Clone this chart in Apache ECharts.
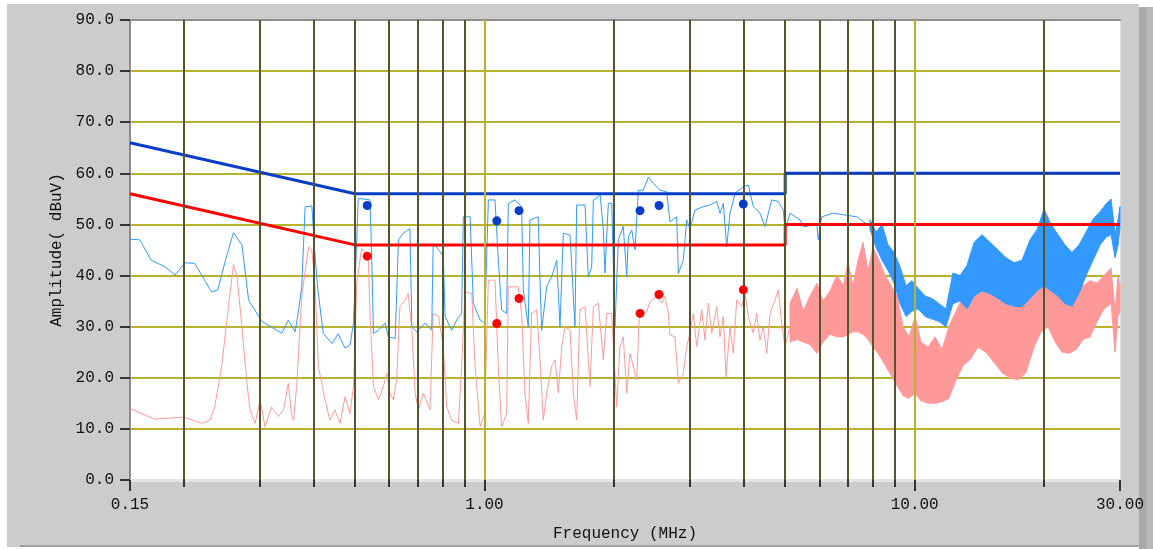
<!DOCTYPE html>
<html>
<head>
<meta charset="utf-8">
<script src="https://cdn.jsdelivr.net/npm/echarts@6/dist/echarts.min.js"></script>
<style>
html,body{margin:0;padding:0;background:#ffffff;}
#chart{width:1153px;height:549px;}
</style>
</head>
<body>
<div id="chart"></div>
<script>
// ---- data ----
const xLabelValues = [0.15, 1, 10, 30];
const xLabelTexts = ['0.15', '1.00', '10.00', '30.00'];
const xMinorTicks = [0.2, 0.3, 0.4, 0.5, 0.6, 0.7, 0.8, 0.9, 2, 3, 4, 5, 6, 7, 8, 9, 20];
const gridMinorFreq = [0.2, 0.3, 0.4, 0.5, 0.6, 0.7, 0.8, 0.9, 2, 3, 4, 5, 6, 7, 8, 9, 20];
const gridDecadeFreq = [1, 10];

const qpLimitFreq = [0.15, 0.5, 5, 5, 30];
const qpLimitVal = [66, 56, 56, 60, 60];
const avLimitFreq = [0.15, 0.5, 5, 5, 30];
const avLimitVal = [56, 46, 46, 50, 50];

const qpFreq = [0.150,0.158,0.168,0.181,0.191,0.201,0.212,0.232,0.240,0.250,
0.261,0.273,0.283,0.304,0.338,0.350,0.363,0.369,0.376,0.383,
0.397,0.404,0.410,0.422,0.442,0.457,0.474,0.487,0.496,0.500,
0.509,0.542,0.547,0.552,0.567,0.587,0.598,0.620,0.631,0.648,
0.671,0.678,0.696,0.728,0.754,0.760,0.788,0.802,0.810,0.839,
0.862,0.885,0.893,0.926,0.942,0.977,1.001,1.021,1.058,1.077,
1.096,1.126,1.136,1.177,1.220,1.231,1.264,1.276,1.333,1.346,
1.358,1.395,1.433,1.472,1.498,1.525,1.581,1.623,1.638,1.713,
1.743,1.775,1.791,1.839,1.856,1.889,1.906,1.940,1.976,2.011,
2.047,2.102,2.141,2.160,2.199,2.238,2.278,2.340,2.404,2.469,
2.559,2.652,2.699,2.798,2.822,2.898,2.951,3.004,3.085,3.226,
3.344,3.466,3.527,3.590,3.656,3.721,3.822,3.996,4.104,4.215,
4.369,4.487,4.651,4.818,4.949,4.994,5.130,5.412,5.508,5.600,
5.918,5.969,6.078,6.469,6.950,7.333,7.874];
const qpVal = [47.1,47.0,43.0,41.7,40.1,42.5,42.4,36.8,37.2,43.0,
48.4,46.0,35.2,31.0,28.7,31.3,29.0,32.7,37.8,53.5,
53.6,43.7,37.2,28.7,26.7,28.6,25.8,26.4,30.7,37.8,
55.1,54.8,43.0,28.7,29.3,30.7,28.0,27.7,47.0,48.3,
49.2,30.0,29.0,30.7,29.3,46.3,44.7,43.7,32.0,29.3,
31.3,32.6,51.5,51.5,34.6,31.3,30.7,54.8,54.8,43.0,
33.3,32.6,54.1,54.8,53.5,37.2,30.0,50.9,51.5,39.1,
29.3,37.8,39.8,43.0,30.0,48.3,47.9,30.0,53.8,53.8,
39.8,41.7,54.8,55.4,56.1,48.9,40.5,54.1,54.2,30.0,
47.0,49.6,39.8,47.6,48.9,45.0,56.7,56.7,59.3,58.0,
56.7,56.4,50.5,51.5,40.4,43.0,50.9,49.2,52.8,53.5,
53.8,54.5,52.2,54.1,45.6,52.2,56.1,57.4,57.7,53.5,
52.2,49.6,54.8,54.5,52.8,48.9,52.2,50.9,49.6,49.6,
50.2,47.0,51.5,52.2,51.8,51.5,49.6];

const qpBandFreq = [7.874,8.130,8.395,8.670,8.952,9.245,9.545,9.856,10.18,10.57,
10.97,11.39,11.82,12.27,12.74,13.23,13.74,14.33,14.96,15.62,
16.30,17.02,17.76,18.54,19.24,19.98,20.74,21.53,22.35,23.20,
24.09,25.01,25.97,26.96,27.84,28.60,29.22,29.70,30];
const qpBandHigh = [50.9,48.5,50.0,46.0,44.5,41.7,38.0,39.0,37.5,36.0,
35.5,34.5,33.5,40.5,40.0,42.0,46.5,48.0,46.5,45.0,
43.5,42.5,43.0,47.0,49.0,53.0,50.0,48.0,46.0,44.5,
46.0,48.5,51.0,52.5,54.0,55.0,48.0,51.0,53.5];
const qpBandLow = [49.0,45.5,43.0,41.0,38.5,34.5,32.0,33.0,33.5,32.0,
31.5,31.0,30.0,34.5,35.0,33.5,36.0,37.0,36.5,35.5,
34.5,34.0,33.9,35.5,37.0,38.0,37.0,36.0,34.5,34.0,
36.5,40.0,43.0,46.0,47.5,48.0,43.5,46.0,49.5];

const avFreq = [0.150,0.171,0.184,0.200,0.220,0.230,0.236,0.245,0.254,0.261,
0.266,0.273,0.280,0.285,0.293,0.301,0.309,0.320,0.332,0.341,
0.350,0.356,0.360,0.366,0.376,0.390,0.397,0.404,0.411,0.426,
0.437,0.449,0.462,0.474,0.487,0.496,0.505,0.518,0.533,0.537,
0.542,0.552,0.567,0.582,0.593,0.603,0.614,0.625,0.636,0.654,
0.665,0.678,0.690,0.702,0.721,0.747,0.760,0.782,0.802,0.817,
0.839,0.870,0.885,0.901,0.934,0.951,0.977,1.001,1.021,1.058,
1.077,1.096,1.126,1.136,1.198,1.220,1.242,1.264,1.287,1.322,
1.346,1.370,1.395,1.433,1.459,1.485,1.512,1.539,1.581,1.609,
1.638,1.667,1.713,1.759,1.791,1.839,1.856,1.889,1.923,1.976,
2.029,2.065,2.102,2.141,2.179,2.258,2.291,2.382,2.425,2.514,
2.582,2.628,2.675,2.699,2.772,2.822,2.898,2.951,3.004,3.058,
3.114,3.199,3.256,3.313,3.374,3.466,3.527,3.590,3.643,3.721,
3.787,3.857,3.962,4.032,4.104,4.215,4.292,4.369,4.447,4.529,
4.610,4.735,4.818,4.907,4.994,5.130];
const avVal = [14.0,11.9,12.1,12.3,11.1,11.7,14.3,22.2,33.9,42.1,
39.8,30.0,19.6,13.7,11.1,15.7,10.4,14.3,12.4,13.7,
18.9,13.0,11.7,18.3,35.9,45.6,45.0,37.8,22.2,15.7,
11.7,13.7,11.1,16.3,13.0,18.3,38.5,45.3,44.0,43.0,
32.6,18.3,15.7,18.3,20.9,17.0,15.7,19.6,33.9,35.2,
36.5,29.3,17.0,13.7,17.0,13.7,32.6,32.0,26.1,14.3,
11.7,11.1,22.2,36.8,36.5,22.2,10.4,13.0,39.1,39.1,
22.2,10.4,13.0,37.8,37.8,32.6,17.0,11.1,32.6,33.3,
23.5,11.7,17.0,22.2,23.5,17.0,26.1,30.0,29.3,17.0,
11.7,33.3,33.9,18.3,33.9,34.6,34.6,23.5,32.6,32.6,
14.3,26.1,28.0,17.0,24.8,19.6,32.6,32.9,34.9,35.9,
34.6,35.9,32.6,28.4,28.0,18.9,20.9,26.1,28.7,32.6,
26.1,33.3,27.4,34.6,28.7,33.9,28.0,32.0,20.2,30.0,
24.8,35.2,33.9,36.5,32.0,28.7,32.6,27.4,30.0,24.8,
32.6,35.2,37.2,30.7,26.1,30.0];

const avBandFreq = [5.130,5.326,5.508,5.709,5.927,6.120,6.355,6.598,6.823,6.998,
7.188,7.383,7.584,7.790,8.001,8.261,8.531,8.810,9.097,9.393,
9.700,10.02,10.34,10.74,11.15,11.57,12.01,12.47,12.97,13.44,
14.03,14.64,15.29,15.96,16.65,17.39,18.14,18.94,19.66,20.41,
21.20,22.00,22.85,23.72,24.62,25.56,26.53,27.54,28.60,29.22,
29.68,30];
const avBandHigh = [34.6,37.5,33.0,36.0,38.5,35.0,37.0,40.0,38.0,42.5,
38.0,43.0,46.5,41.0,45.5,43.0,40.0,38.0,36.0,30.0,
28.0,32.0,27.0,26.0,28.0,25.5,30.0,33.0,36.0,40.0,
38.5,40.0,38.0,36.5,35.0,34.0,37.0,38.5,41.0,39.0,
38.0,36.5,37.0,39.5,38.0,39.0,38.5,40.0,41.5,33.0,
40.0,38.0];
const avBandLow = [27.0,27.5,27.0,26.5,24.8,27.0,28.5,28.0,28.0,28.5,
29.0,29.0,28.5,27.5,26.0,24.5,22.5,20.5,18.5,16.5,
16.0,17.0,15.5,15.0,15.0,15.3,16.0,19.5,22.5,23.5,
26.0,25.0,23.0,21.0,20.0,19.6,21.0,26.0,29.0,30.0,
27.0,25.0,24.8,25.5,27.5,28.0,31.0,33.5,34.5,25.0,
32.0,33.0];

const qpPeakFreq = [0.534, 1.068, 1.203, 2.299, 2.545, 3.996];
const qpPeakVal = [53.7, 50.7, 52.7, 52.7, 53.7, 54.0];
const avPeakFreq = [0.534, 1.068, 1.203, 2.299, 2.545, 3.996];
const avPeakVal = [43.8, 30.6, 35.5, 32.6, 36.3, 37.2];

// ---- build ----
const zip = (xs, ys) => xs.map((x, i) => [x, ys[i]]);

const FONT = 'Liberation Mono';
const TXT = '#111111';
const C_QP = '#3399ff', C_AV = '#ff9999';

const gridLines = gridMinorFreq.map(f => ({xAxis: f, lineStyle: {color: '#55552e', width: 2, type: 'solid'}}))
  .concat(gridDecadeFreq.map(f => ({xAxis: f, lineStyle: {color: '#b8b22c', width: 2, type: 'solid'}})));

const lineBase = {type: 'line', xAxisIndex: 0, yAxisIndex: 0, symbol: 'none', showSymbol: false, animation: false, silent: true};

// dense scan drawn as a filled envelope, placed through the axis scales
function bandSeries(name, freq, hi, lo, color, z) {
  return {
    type: 'custom', name: name, xAxisIndex: 0, yAxisIndex: 0, z: z, silent: true, animation: false,
    data: [[freq[0], lo[0]]],
    renderItem: function (params, api) {
      const top = freq.map((f, i) => api.coord([f, hi[i]]));
      const bot = freq.map((f, i) => api.coord([f, lo[i]])).reverse();
      return {type: 'polygon', shape: {points: top.concat(bot)},
        style: {fill: color, stroke: color, lineWidth: 1}};
    }
  };
}

const chart = echarts.init(document.getElementById('chart'), null, {renderer: 'canvas'});
chart.setOption({
  animation: false,
  backgroundColor: 'transparent',
  graphic: {
    elements: [
      {type: 'rect', z: -10, shape: {x: 7, y: 4, width: 1132, height: 543}, style: {fill: '#cccccc'}},
      {type: 'rect', z: -10, shape: {x: 20, y: 545, width: 1119, height: 2}, style: {fill: '#a0a0a0'}},
      {type: 'rect', z: -10, shape: {x: 1139, y: 7, width: 8, height: 542}, style: {fill: '#a9a9a9'}},
      {type: 'rect', z: -10, shape: {x: 1147, y: 7, width: 6, height: 542}, style: {fill: '#b8b8b8'}}
    ]
  },
  grid: {left: 130, right: 33, top: 20, bottom: 69, show: true, backgroundColor: '#ffffff', borderWidth: 0},
  xAxis: [
    {
      type: 'log', logBase: 10, min: 0.15, max: 30, position: 'bottom',
      name: 'Frequency (MHz)', nameLocation: 'middle', nameGap: 46,
      nameTextStyle: {fontFamily: FONT, fontSize: 16, color: TXT},
      axisLine: {show: true, lineStyle: {color: '#e4e4e4', width: 3}},
      axisTick: {show: true, customValues: xLabelValues, length: 11, lineStyle: {color: '#333333', width: 2}},
      axisLabel: {show: true, customValues: xLabelValues, margin: 17, fontFamily: FONT, fontSize: 16, color: TXT,
        formatter: v => { const i = xLabelValues.findIndex(t => Math.abs(t - v) < 1e-6); return i >= 0 ? xLabelTexts[i] : ''; }},
      splitLine: {show: false}
    },
    {
      type: 'log', logBase: 10, min: 0.15, max: 30, position: 'bottom',
      axisLine: {show: false},
      axisTick: {show: true, customValues: xMinorTicks, length: 7, lineStyle: {color: '#333333', width: 2}},
      axisLabel: {show: false},
      splitLine: {show: false}
    },
    {
      type: 'value', min: 0, max: 1, position: 'top',
      axisLine: {show: true, lineStyle: {color: '#8f8f8f', width: 2}},
      axisTick: {show: false}, axisLabel: {show: false}, splitLine: {show: false}
    }
  ],
  yAxis: [
    {
      type: 'value', min: 0, max: 90, interval: 10, position: 'left',
      name: 'Amplitude( dBuV)', nameLocation: 'middle', nameGap: 63,
      nameTextStyle: {fontFamily: FONT, fontSize: 16, color: TXT},
      axisLine: {show: true, lineStyle: {color: '#8c8c8c', width: 2}},
      axisTick: {show: true, length: 10, lineStyle: {color: '#333333', width: 2}},
      axisLabel: {margin: 16, fontFamily: FONT, fontSize: 16, color: TXT, formatter: v => v.toFixed(1)},
      splitLine: {show: true, lineStyle: {color: '#b8b22c', width: 2}}
    },
    {
      type: 'value', min: 0, max: 1, position: 'right',
      axisLine: {show: true, lineStyle: {color: '#dcdcdc', width: 1}},
      axisTick: {show: false}, axisLabel: {show: false}, splitLine: {show: false}
    }
  ],
  series: [
    Object.assign({}, lineBase, {
      name: 'grid', data: [], z: 1,
      markLine: {silent: true, animation: false, symbol: ['none', 'none'], label: {show: false}, data: gridLines}
    }),
    Object.assign({}, lineBase, {name: 'AV scan', data: zip(avFreq, avVal), z: 2, lineStyle: {color: C_AV, width: 1}}),
    bandSeries('AV band', avBandFreq, avBandHigh, avBandLow, C_AV, 2),
    Object.assign({}, lineBase, {name: 'QP scan', data: zip(qpFreq, qpVal), z: 3, lineStyle: {color: C_QP, width: 1}}),
    bandSeries('QP band', qpBandFreq, qpBandHigh, qpBandLow, C_QP, 3),
    Object.assign({}, lineBase, {name: 'QP limit', data: zip(qpLimitFreq, qpLimitVal), z: 4, lineStyle: {color: '#0a3cc8', width: 3}}),
    Object.assign({}, lineBase, {name: 'AV limit', data: zip(avLimitFreq, avLimitVal), z: 4, lineStyle: {color: '#ff0000', width: 3}}),
    {type: 'scatter', name: 'QP peaks', xAxisIndex: 0, yAxisIndex: 0, data: zip(qpPeakFreq, qpPeakVal), symbol: 'circle', symbolSize: 9,
      itemStyle: {color: '#0a3cc8', opacity: 1}, z: 5, animation: false, silent: true},
    {type: 'scatter', name: 'AV peaks', xAxisIndex: 0, yAxisIndex: 0, data: zip(avPeakFreq, avPeakVal), symbol: 'circle', symbolSize: 9,
      itemStyle: {color: '#ff0000', opacity: 1}, z: 5, animation: false, silent: true}
  ]
});
</script>
</body>
</html>
